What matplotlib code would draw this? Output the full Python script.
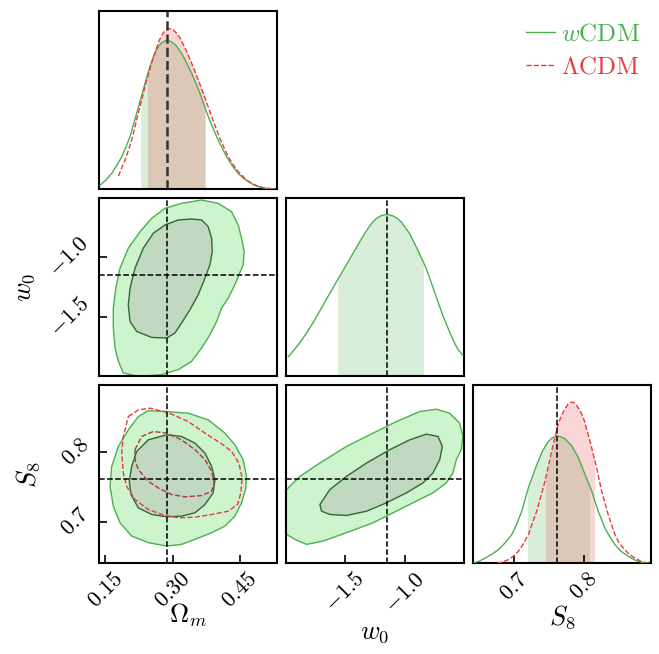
import numpy as np
import matplotlib
matplotlib.use("Agg")
import matplotlib.pyplot as plt
from matplotlib.lines import Line2D
from matplotlib.patches import Rectangle

plt.rcParams['mathtext.fontset'] = 'cm'
plt.rcParams['font.family'] = 'serif'
plt.rcParams['font.serif'] = ['DejaVu Serif']

# ---------------------------------------------------------------- parameters
labels = [r'$\Omega_m$', r'$w_0$', r'$S_8$']
truths = [0.2866, -1.148, 0.762]
limits = [(0.1347, 0.5316), (-1.993, -0.507), (0.641, 0.8962)]
ticks = [[0.15, 0.30, 0.45], [-1.5, -1.0], [0.7, 0.8]]
tick_labels = [[r'$0.15$', r'$0.30$', r'$0.45$'],
               [r'$-1.5$', r'$-1.0$'],
               [r'$0.7$', r'$0.8$']]

# ---------------------------------------------------------------- 1D marginals
wcdm_om_x = [0.1381, 0.1510, 0.1641, 0.1750, 0.1864, 0.1960, 0.2049, 0.2198, 0.2345,
             0.2494, 0.2570, 0.2644, 0.2700, 0.2755, 0.2844, 0.2940, 0.3010, 0.3089,
             0.3236, 0.3423, 0.3608, 0.3793, 0.3980, 0.4090, 0.4203, 0.4330, 0.4461,
             0.4610, 0.4760, 0.4900, 0.5056, 0.5278]
wcdm_om_p = [0.021, 0.050, 0.087, 0.130, 0.181, 0.236, 0.294, 0.425, 0.558,
             0.689, 0.742, 0.784, 0.806, 0.821, 0.834, 0.831, 0.820, 0.802,
             0.746, 0.651, 0.538, 0.407, 0.294, 0.236, 0.181, 0.130, 0.087,
             0.053, 0.030, 0.014, 0.004, 0.0]
lcdm_om_x = [0.1789, 0.1860, 0.1938, 0.2010, 0.2087, 0.2234, 0.2383, 0.2532, 0.2610,
             0.2679, 0.2740, 0.2791, 0.2850, 0.2902, 0.2960, 0.3013, 0.3090, 0.3163,
             0.3312, 0.3497, 0.3682, 0.3869, 0.4053, 0.4150, 0.4239, 0.4370, 0.4498,
             0.4640, 0.4795, 0.4960, 0.5130, 0.5278]
lcdm_om_p = [0.072, 0.115, 0.162, 0.215, 0.275, 0.425, 0.576, 0.708, 0.768,
             0.821, 0.855, 0.877, 0.893, 0.900, 0.900, 0.893, 0.875, 0.849,
             0.774, 0.661, 0.538, 0.407, 0.284, 0.230, 0.181, 0.128, 0.087,
             0.052, 0.026, 0.010, 0.002, 0.0]

wcdm_w0_x = [-1.972, -1.925, -1.875, -1.820, -1.764, -1.710, -1.653, -1.556, -1.458,
             -1.361, -1.318, -1.278, -1.243, -1.208, -1.180, -1.153, -1.125, -1.097,
             -1.062, -1.028, -0.958, -0.889, -0.819, -0.750, -0.681, -0.645, -0.611,
             -0.584, -0.556, -0.514]
wcdm_w0_p = [0.109, 0.146, 0.188, 0.242, 0.301, 0.365, 0.433, 0.546, 0.659,
             0.772, 0.818, 0.857, 0.882, 0.898, 0.905, 0.908, 0.906, 0.900,
             0.886, 0.866, 0.800, 0.706, 0.603, 0.471, 0.339, 0.280, 0.226,
             0.186, 0.151, 0.117]

wcdm_s8_x = [0.6419, 0.6500, 0.6586, 0.6680, 0.6776, 0.6870, 0.6967, 0.7040, 0.7110,
             0.7204, 0.7300, 0.7396, 0.7445, 0.7490, 0.7540, 0.7586, 0.7620, 0.7657,
             0.7690, 0.7729, 0.7824, 0.7919, 0.8014, 0.8110, 0.8204, 0.8300, 0.8370,
             0.8443, 0.8530, 0.8633, 0.8730, 0.8824, 0.8943]
wcdm_s8_p = [0.002, 0.012, 0.030, 0.051, 0.077, 0.115, 0.162, 0.224, 0.294,
             0.425, 0.529, 0.623, 0.657, 0.685, 0.703, 0.712, 0.715, 0.712,
             0.707, 0.699, 0.661, 0.595, 0.501, 0.407, 0.294, 0.199, 0.150,
             0.106, 0.068, 0.040, 0.018, 0.006, 0.0]
lcdm_s8_x = [0.6753, 0.6840, 0.6919, 0.6990, 0.7061, 0.7130, 0.7204, 0.7324, 0.7443,
             0.7539, 0.7633, 0.7680, 0.7729, 0.7770, 0.7814, 0.7855, 0.7896, 0.7940,
             0.7990, 0.8086, 0.8181, 0.8253, 0.8347, 0.8443, 0.8510, 0.8586, 0.8650,
             0.8729, 0.8810, 0.8896]
lcdm_s8_p = [0.0, 0.008, 0.021, 0.040, 0.068, 0.108, 0.162, 0.294, 0.463,
             0.633, 0.784, 0.833, 0.868, 0.893, 0.906, 0.903, 0.887, 0.860,
             0.821, 0.689, 0.538, 0.407, 0.275, 0.162, 0.110, 0.077, 0.050,
             0.030, 0.012, 0.002]

# 68% credible intervals
wcdm_om_ci = (0.2294, 0.3704)
lcdm_om_ci = (0.2443, 0.3720)
wcdm_w0_ci = (-1.561, -0.847)
wcdm_s8_ci = (0.7196, 0.8071)
lcdm_s8_ci = (0.7457, 0.8147)

# ---------------------------------------------------------------- 2D contours
# Omega_m - w0 (wCDM)
om_w0_95_om = [0.3646, 0.4016, 0.4314, 0.4461, 0.4537, 0.4595, 0.4572, 0.4461, 0.4387,
               0.4238, 0.4091, 0.3980, 0.3831, 0.3646, 0.3423, 0.3125, 0.2755, 0.2234,
               0.1900, 0.1789, 0.1715, 0.1677, 0.1677, 0.1731, 0.1826, 0.2011, 0.2272,
               0.2532, 0.2827, 0.3198]
om_w0_95_w0 = [-0.5225, -0.550, -0.620, -0.731, -0.842, -0.953, -1.064, -1.162, -1.231,
               -1.342, -1.425, -1.537, -1.648, -1.758, -1.870, -1.939, -1.981, -1.995,
               -1.967, -1.870, -1.758, -1.592, -1.425, -1.259, -1.092, -0.925, -0.787,
               -0.675, -0.592, -0.550]
om_w0_68_om = [0.3423, 0.3646, 0.3793, 0.3869, 0.3882, 0.3831, 0.3720, 0.3570, 0.3385,
               0.3198, 0.3051, 0.2866, 0.2532, 0.2198, 0.2050, 0.2011, 0.2050, 0.2160,
               0.2345, 0.2568, 0.2827, 0.3125]
om_w0_68_w0 = [-0.681, -0.689, -0.745, -0.842, -0.953, -1.064, -1.175, -1.314, -1.439,
               -1.550, -1.633, -1.675, -1.670, -1.620, -1.537, -1.398, -1.259, -1.092,
               -0.925, -0.800, -0.731, -0.689]

# Omega_m - S8 (wCDM)
om_s8_95_om = [0.2457, 0.2866, 0.3347, 0.3793, 0.4165, 0.4387, 0.4572, 0.4648, 0.4626,
               0.4537, 0.4387, 0.4165, 0.3869, 0.3497, 0.3198, 0.2866, 0.2457, 0.2087,
               0.1826, 0.1677, 0.1603, 0.1641, 0.1789, 0.2011, 0.2234]
om_s8_95_s8 = [0.8600, 0.8586, 0.8563, 0.8467, 0.8277, 0.8110, 0.7896, 0.7657, 0.7467,
               0.7277, 0.7086, 0.6943, 0.6849, 0.6753, 0.6681, 0.6657, 0.6706, 0.6800,
               0.6991, 0.7229, 0.7514, 0.7800, 0.8086, 0.8324, 0.8514]
om_s8_68_om = [0.2866, 0.3198, 0.3497, 0.3720, 0.3869, 0.3942, 0.3904, 0.3720, 0.3497,
               0.3198, 0.2866, 0.2532, 0.2234, 0.2071, 0.2033, 0.2087, 0.2198, 0.2457]
om_s8_68_s8 = [0.8253, 0.8229, 0.8134, 0.7991, 0.7800, 0.7610, 0.7420, 0.7253, 0.7134,
               0.7086, 0.7077, 0.7110, 0.7205, 0.7396, 0.7586, 0.7800, 0.8014, 0.8181]

# Omega_m - S8 (LCDM)
lc_om_s8_95_om = [0.2011, 0.2234, 0.2494, 0.2902, 0.3347, 0.3720, 0.4091, 0.4314, 0.4476,
                  0.4550, 0.4521, 0.4447, 0.4238, 0.3869, 0.3497, 0.3125, 0.2827, 0.2457,
                  0.2160, 0.1975, 0.1900, 0.1864, 0.1900]
lc_om_s8_95_s8 = [0.8514, 0.8610, 0.8634, 0.8571, 0.8443, 0.8277, 0.8124, 0.8014, 0.7848,
                  0.7634, 0.7420, 0.7253, 0.7157, 0.7110, 0.7071, 0.7063, 0.7096, 0.7181,
                  0.7324, 0.7514, 0.7706, 0.7991, 0.8229]
lc_om_s8_68_om = [0.2160, 0.2309, 0.2568, 0.2866, 0.3198, 0.3497, 0.3720, 0.3869, 0.3927,
                  0.3869, 0.3646, 0.3274, 0.2977, 0.2680, 0.2457, 0.2234, 0.2160]
lc_om_s8_68_s8 = [0.8039, 0.8229, 0.8300, 0.8277, 0.8181, 0.8039, 0.7896, 0.7729, 0.7563,
                  0.7443, 0.7381, 0.7363, 0.7396, 0.7491, 0.7586, 0.7753, 0.7896]

# w0 - S8 (wCDM)
w0_s8_95_w0 = [-2.125, -2.014, -1.875, -1.708, -1.486, -1.264, -1.069, -0.875, -0.736,
               -0.625, -0.542, -0.514, -0.528, -0.569, -0.597, -0.653, -0.764, -0.931,
               -1.097, -1.264, -1.486, -1.681, -1.819, -1.917, -1.986, -2.125]
w0_s8_95_s8 = [0.7277, 0.7420, 0.7657, 0.7848, 0.8086, 0.8277, 0.8443, 0.8586, 0.8620,
               0.8563, 0.8420, 0.8229, 0.8039, 0.7896, 0.7706, 0.7563, 0.7420, 0.7277,
               0.7134, 0.6991, 0.6849, 0.6729, 0.6681, 0.6753, 0.6824, 0.6896]
w0_s8_68_w0 = [-1.708, -1.625, -1.486, -1.319, -1.125, -0.958, -0.819, -0.722, -0.686,
               -0.708, -0.764, -0.847, -0.986, -1.153, -1.319, -1.486, -1.625, -1.694]
w0_s8_68_s8 = [0.7253, 0.7467, 0.7657, 0.7848, 0.8039, 0.8181, 0.8262, 0.8229, 0.8086,
               0.7896, 0.7706, 0.7563, 0.7420, 0.7277, 0.7157, 0.7096, 0.7110, 0.7157]

# ---------------------------------------------------------------- styles
GREEN = '#4caf50'
DARK_GREEN = '#2e6b2e'
RED = '#e63c3c'
DARK_RED = '#a83a3a'
OUTER_FILL = '#cdf4cd'
INNER_FILL = '#c1d8c1'

# label placement (axes coordinates) for the outer row / column
xlabel_y = [-0.215, -0.32, -0.225]
ylabel_x = [None, -0.345, -0.315]

fig = plt.figure(figsize=(6.59, 6.54), dpi=100)
gs = fig.add_gridspec(3, 3, left=0.1495, right=0.9879, bottom=0.1387, top=0.9832,
                      wspace=0.052, hspace=0.052)
axes = [[fig.add_subplot(gs[i, j]) for j in range(3)] for i in range(3)]


def style_axis(ax):
    for s in ax.spines.values():
        s.set_linewidth(1.5)
    ax.tick_params(direction='in', length=6, width=1.2, labelsize=16,
                   top=False, right=False)


def marginal(ax, x, p, ci, color, ls):
    x = np.asarray(x)
    p = np.asarray(p)
    fill = ax.fill_between(x, 0, p, color=color, alpha=0.21, lw=0, zorder=1)
    clip = Rectangle((ci[0], 0), ci[1] - ci[0], 2.0, transform=ax.transData)
    fill.set_clip_path(clip)
    ax.plot(x, p, color=color, ls=ls, lw=1.0, zorder=3)


def contours_filled(ax, xo, yo, xi, yi):
    ax.fill(xo, yo, facecolor=OUTER_FILL, edgecolor=GREEN, lw=1.0, zorder=1)
    ax.fill(xi, yi, facecolor=INNER_FILL, edgecolor=DARK_GREEN, lw=1.0, zorder=2)


def contours_dashed(ax, xo, yo, xi, yi):
    ax.fill(xo, yo, fill=False, edgecolor=RED, ls='--', lw=1.0, zorder=3)
    ax.fill(xi, yi, fill=False, edgecolor=DARK_RED, ls='--', lw=1.0, zorder=3)


for i in range(3):
    for j in range(3):
        ax = axes[i][j]
        if j > i:
            ax.set_axis_off()
            continue
        style_axis(ax)
        ax.set_xlim(limits[j])
        if i == j:
            ax.set_ylim(0, 1.0)
            ax.set_yticks([])
        else:
            ax.set_ylim(limits[i])
            if j == 0:
                ax.set_yticks(ticks[i])
                ax.set_yticklabels(tick_labels[i], rotation=45, va='center')
                ax.set_ylabel(labels[i], fontsize=19)
                ax.yaxis.set_label_coords(ylabel_x[i], 0.5)
            else:
                ax.set_yticks([])
        if i == 2:
            ax.set_xticks(ticks[j])
            ax.set_xticklabels(tick_labels[j], rotation=45, ha='center')
            ax.set_xlabel(labels[j], fontsize=19)
            ax.xaxis.set_label_coords(0.5, xlabel_y[j])
        else:
            ax.set_xticks([])

# diagonal panels
marginal(axes[0][0], wcdm_om_x, wcdm_om_p, wcdm_om_ci, GREEN, '-')
marginal(axes[0][0], lcdm_om_x, lcdm_om_p, lcdm_om_ci, RED, '--')
marginal(axes[1][1], wcdm_w0_x, wcdm_w0_p, wcdm_w0_ci, GREEN, '-')
marginal(axes[2][2], wcdm_s8_x, wcdm_s8_p, wcdm_s8_ci, GREEN, '-')
marginal(axes[2][2], lcdm_s8_x, lcdm_s8_p, lcdm_s8_ci, RED, '--')

# off-diagonal panels
contours_filled(axes[1][0], om_w0_95_om, om_w0_95_w0, om_w0_68_om, om_w0_68_w0)
contours_filled(axes[2][0], om_s8_95_om, om_s8_95_s8, om_s8_68_om, om_s8_68_s8)
contours_dashed(axes[2][0], lc_om_s8_95_om, lc_om_s8_95_s8, lc_om_s8_68_om, lc_om_s8_68_s8)
contours_filled(axes[2][1], w0_s8_95_w0, w0_s8_95_s8, w0_s8_68_w0, w0_s8_68_s8)

# fiducial values
for i in range(3):
    for j in range(i + 1):
        ax = axes[i][j]
        lw = 1.8 if (i == j == 0) else 1.1
        col = '#333333' if (i == j == 0) else 'black'
        ax.axvline(truths[j], color=col, ls='--', lw=lw, zorder=5)
        if i != j:
            ax.axhline(truths[i], color='black', ls='--', lw=1.1, zorder=5)

handles = [Line2D([], [], color=GREEN, lw=1.0, ls='-'),
           Line2D([], [], color=RED, lw=1.0, ls='--')]
fig.legend(handles, [r'$w\mathrm{CDM}$', r'$\Lambda\mathrm{CDM}$'],
           loc='upper right', bbox_to_anchor=(1.006, 1.0), frameon=False,
           fontsize=18, labelcolor='linecolor', handlelength=1.15,
           handletextpad=0.25, labelspacing=0.4)

fig.savefig('out.png', dpi=100)
